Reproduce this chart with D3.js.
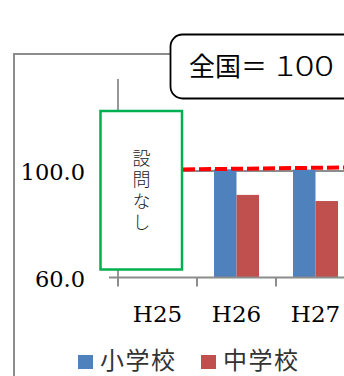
<!DOCTYPE html>
<html><head><meta charset="utf-8">
<script src="https://cdn.jsdelivr.net/npm/d3@7"></script>
<style>html,body{margin:0;padding:0;background:#fff;}svg{display:block;}</style>
</head><body>
<script>
const categories = ["H25", "H26", "H27"];
const seriesNames = ["小学校", "中学校"];
const elementary = [null, 100.6, 100.5];
const juniorHigh = [null, 91.0, 88.7];
const yTicks = [60, 100];
const yTickLabels = ["60.0", "100.0"];
const nationalPrefix = "全国＝";
const nationalValue = "100";
const noQuestionLabel = "設問なし";
const colors = ["#4f81bd", "#c0504d"];

const W = 344, H = 376;
const svg = d3.select("body").append("svg").attr("width", W).attr("height", H);
const gray = "#8c8c8c";
const cjk = "'Noto Sans CJK JP', sans-serif";
const serif = "'DejaVu Serif', serif";

// outer frame
svg.append("rect").attr("x", 14).attr("y", 54).attr("width", 400).attr("height", 400)
  .attr("fill", "#fff").attr("stroke", gray).attr("stroke-width", 2);

const x = d3.scaleBand().domain(categories).range([118, 355]).padding(0);
const x1 = d3.scaleBand().domain(seriesNames).range([0, 45]).padding(0);
const y = d3.scaleLinear().domain([60, 134.5]).range([277.5, 79]);

// gridline at 100
svg.append("line").attr("x1", 118).attr("x2", W).attr("y1", y(100)).attr("y2", y(100))
  .attr("stroke", gray).attr("stroke-width", 2);

// bars
const series = [elementary, juniorHigh];
series.forEach((vals, si) => {
  svg.append("g").selectAll("rect").data(categories.map((c, i) => ({c, v: vals[i]})).filter(d => d.v != null))
    .join("rect")
    .attr("x", d => x(d.c) + x.bandwidth() / 2 - 22.5 + x1(seriesNames[si]))
    .attr("width", x1.bandwidth())
    .attr("y", d => y(d.v))
    .attr("height", d => y(60) - y(d.v))
    .attr("fill", colors[si]);
});

// y axis line
svg.append("line").attr("x1", 118).attr("x2", 118).attr("y1", y.range()[1]).attr("y2", y(60))
  .attr("stroke", gray).attr("stroke-width", 1.8);
// x axis ticks at category boundaries
const gx = svg.append("g").attr("transform", `translate(0,${y(60)})`);
gx.selectAll("line").data(categories).join("line")
  .attr("x1", d => x(d)).attr("x2", d => x(d)).attr("y1", 0).attr("y2", 9)
  .attr("stroke", gray).attr("stroke-width", 2);
svg.append("line").attr("x1", 109).attr("x2", W).attr("y1", y(60)).attr("y2", y(60))
  .attr("stroke", gray).attr("stroke-width", 2);

// x labels
svg.append("g").selectAll("text").data(categories).join("text")
  .attr("x", d => x(d) + x.bandwidth() / 2).attr("y", 321.5)
  .attr("text-anchor", "middle").attr("font-family", serif).attr("font-size", 23)
  .attr("fill", "#000").text(d => d);

// y labels
svg.append("g").selectAll("text").data(yTicks).join("text")
  .attr("x", 85).attr("y", d => y(d) + 9.5)
  .attr("text-anchor", "end").attr("font-family", serif).attr("font-size", 22.5)
  .attr("fill", "#000").text((d, i) => yTickLabels[i]);

// red dashed national line
svg.append("line").attr("x1", 183).attr("x2", W)
  .attr("y1", y(100) - 1.5).attr("y2", y(100) - 3.5)
  .attr("stroke", "#ff0000").attr("stroke-width", 4).attr("stroke-dasharray", "12,4");

// "no question" box
svg.append("rect").attr("x", 100.5).attr("y", 111).attr("width", 81.5).attr("height", 158.5)
  .attr("fill", "#fff").attr("stroke", "#00b050").attr("stroke-width", 2.5);
svg.append("text")
  .attr("x", 141.5).attr("y", 192)
  .attr("text-anchor", "middle")
  .style("writing-mode", "vertical-rl")
  .attr("letter-spacing", 3.5)
  .attr("font-family", cjk).attr("font-weight", 300).attr("font-size", 18)
  .attr("fill", "#222").text(noQuestionLabel);

// callout
svg.append("rect").attr("x", 170.5).attr("y", 34.5).attr("width", 220).attr("height", 64)
  .attr("rx", 12).attr("fill", "#fff").attr("stroke", "#000").attr("stroke-width", 1.8);
svg.append("text").attr("x", 189).attr("y", 76)
  .attr("font-family", cjk).attr("font-weight", 400).attr("font-size", 26).attr("fill", "#000").text(nationalPrefix);
svg.append("text").attr("x", 275).attr("y", 76)
  .attr("textLength", 59).attr("lengthAdjust", "spacingAndGlyphs")
  .attr("font-family", cjk).attr("font-weight", 300).attr("font-size", 28).attr("fill", "#000").text(nationalValue);

// legend
const legendX = [78, 201];
seriesNames.forEach((n, i) => {
  svg.append("rect").attr("x", legendX[i]).attr("y", 355).attr("width", 15).attr("height", 14).attr("fill", colors[i]);
  svg.append("text").attr("x", legendX[i] + 22).attr("y", 369)
    .attr("letter-spacing", 1.5)
    .attr("font-family", cjk).attr("font-size", 24).attr("fill", "#333").text(n);
});
</script>
</body></html>
